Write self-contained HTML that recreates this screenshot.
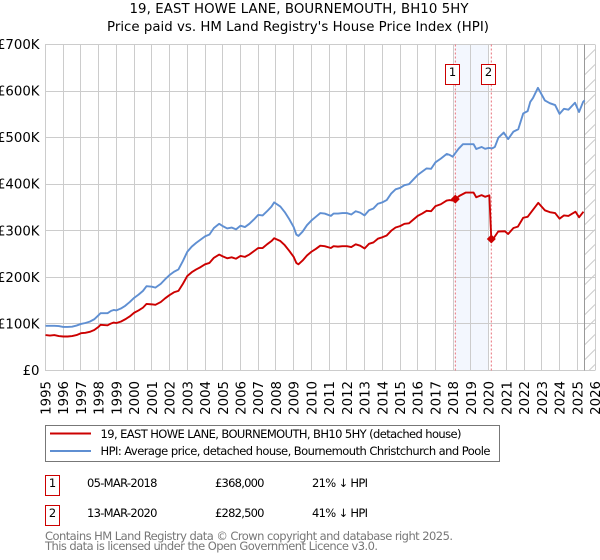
<!DOCTYPE html>
<html lang="en">
<head>
<meta charset="utf-8">
<title>19, EAST HOWE LANE, BOURNEMOUTH, BH10 5HY</title>
<style>
html,body{margin:0;padding:0;background:#fff}
svg{display:block}
text{font-family:"DejaVu Sans",sans-serif;fill:#000}
</style>
</head>
<body>
<svg id="chart" xmlns="http://www.w3.org/2000/svg" width="600" height="560" viewBox="0 0 600 560">
  <defs>
    <pattern id="hatch" x="584.5" y="0" width="10.5" height="15" patternUnits="userSpaceOnUse">
      <line x1="0" y1="15" x2="10.5" y2="4.5" stroke="#ccc" stroke-width="1"/>
    </pattern>
  </defs>
  <text x="299" y="13" text-anchor="middle" font-size="13.3" textLength="339" lengthAdjust="spacing">19, EAST HOWE LANE, BOURNEMOUTH, BH10 5HY</text>
  <text x="298" y="31" text-anchor="middle" font-size="13.3" textLength="382" lengthAdjust="spacing">Price paid vs. HM Land Registry's House Price Index (HPI)</text>

  <rect id="shade" fill="#f3f7fe"/>
  <g id="grid"></g>
  <rect id="future" fill="url(#hatch)"/>
  <line id="lastData" stroke="#999" stroke-width="1"/>
  <g id="ylabels"></g>
  <g id="xlabels"></g>
  <g id="saleLines"></g>
  <path id="hpiLine" fill="none" stroke="#5f8fd2" stroke-width="1.9" stroke-linejoin="round"/>
  <path id="priceLine" fill="none" stroke="#cc0000" stroke-width="1.9" stroke-linejoin="round"/>
  <g id="saleMarkers"></g>

  <rect x="45.5" y="425.5" width="454" height="36" fill="#fff" stroke="#777" stroke-width="1"/>
  <line x1="50" x2="91" y1="433.5" y2="433.5" stroke="#cc0000" stroke-width="2"/>
  <text x="100.5" y="438" font-size="11.5" textLength="361" lengthAdjust="spacing">19, EAST HOWE LANE, BOURNEMOUTH, BH10 5HY (detached house)</text>
  <line x1="50" x2="91" y1="451" y2="451" stroke="#5f8fd2" stroke-width="2"/>
  <text x="100.5" y="455" font-size="11.5" textLength="390" lengthAdjust="spacing">HPI: Average price, detached house, Bournemouth Christchurch and Poole</text>

  <rect x="45.5" y="475.5" width="14" height="20" fill="#fff" stroke="#cc0000" stroke-width="1"/>
  <text x="52.5" y="487" text-anchor="middle" font-size="11.5">1</text>
  <text x="87" y="487" font-size="11.5" textLength="70.5" lengthAdjust="spacing">05-MAR-2018</text>
  <text x="215" y="487" font-size="11.5" textLength="49.5" lengthAdjust="spacing">£368,000</text>
  <text x="312" y="487" font-size="11.5" textLength="56" lengthAdjust="spacing">21% ↓ HPI</text>

  <rect x="45.5" y="505.5" width="14" height="20" fill="#fff" stroke="#cc0000" stroke-width="1"/>
  <text x="52.5" y="517" text-anchor="middle" font-size="11.5">2</text>
  <text x="87" y="517" font-size="11.5" textLength="70.5" lengthAdjust="spacing">13-MAR-2020</text>
  <text x="215" y="517" font-size="11.5" textLength="49.5" lengthAdjust="spacing">£282,500</text>
  <text x="312" y="517" font-size="11.5" textLength="56" lengthAdjust="spacing">41% ↓ HPI</text>

  <text x="45" y="540" font-size="11.5" style="fill:#777" textLength="408" lengthAdjust="spacing">Contains HM Land Registry data © Crown copyright and database right 2025.</text>
  <text x="45" y="550" font-size="11.5" style="fill:#777" textLength="333" lengthAdjust="spacing">This data is licensed under the Open Government Licence v3.0.</text>
</svg>
<script>
var yearTicks = [1995,1996,1997,1998,1999,2000,2001,2002,2003,2004,2005,2006,2007,2008,2009,2010,2011,2012,2013,2014,2015,2016,2017,2018,2019,2020,2021,2022,2023,2024,2025,2026];
var priceTicks = [0,100,200,300,400,500,600,700];
var priceTickLabels = ["£0","£100K","£200K","£300K","£400K","£500K","£600K","£700K"];

var hpiDates = [1995,1995.25,1995.5,1995.75,1996,1996.25,1996.5,1996.75,1997,1997.25,1997.5,1997.75,1998,1998.1,1998.5,1998.7,1998.85,1999,1999.25,1999.5,1999.75,2000,2000.25,2000.5,2000.7,2001,2001.2,2001.5,2001.75,2002,2002.25,2002.5,2002.75,2003,2003.25,2003.5,2003.75,2004,2004.25,2004.5,2004.8,2005,2005.25,2005.5,2005.75,2006,2006.25,2006.5,2006.75,2007,2007.25,2007.5,2007.75,2007.9,2008.25,2008.5,2008.75,2009,2009.15,2009.27,2009.5,2009.75,2010,2010.25,2010.5,2010.75,2011.1,2011.25,2011.5,2011.75,2012,2012.25,2012.5,2012.75,2013,2013.25,2013.5,2013.75,2014,2014.25,2014.5,2014.75,2015,2015.25,2015.5,2015.75,2016,2016.25,2016.5,2016.75,2017,2017.3,2017.63,2017.8,2017.97,2018.12,2018.3,2018.55,2019.15,2019.3,2019.6,2019.8,2020,2020.2,2020.35,2020.55,2020.85,2021.1,2021.4,2021.67,2021.95,2022.2,2022.35,2022.5,2022.78,2023.17,2023.45,2023.75,2024,2024.25,2024.5,2024.87,2025.1,2025.33,2025.42];
var hpiValues = [96,96,96,95.5,93.5,93.5,94,96.5,100,102,105,110,119,123,123,128,130,129,133,139,147,156,163,171,181,180,178,186,196,205,212,217,235,255,266,274,281,288,292,306,315,310,305,307,303,311,308,315,324,334,333,342,352,361,352,340,325,308,292,289,298,312,322,330,338,337,332,337,337,338,338,335,342,339,333,344,348,358,361,366,380,389,392,398,400,410,420,427,434,433,447,455,465,463,459,467,476,486,486,475.6,480,476,478,477,480,500,511,497,513,518,552,557,577,585,607,580,574,570,551,562,560,575,555,577,580];

var priceDates = [1995,1995.25,1995.5,1995.75,1996,1996.25,1996.5,1996.75,1997,1997.25,1997.5,1997.75,1998,1998.1,1998.5,1998.7,1998.85,1999,1999.25,1999.5,1999.75,2000,2000.25,2000.5,2000.7,2001,2001.2,2001.5,2001.75,2002,2002.25,2002.5,2002.75,2003,2003.25,2003.5,2003.75,2004,2004.25,2004.5,2004.8,2005,2005.25,2005.5,2005.75,2006,2006.25,2006.5,2006.75,2007,2007.25,2007.5,2007.75,2007.9,2008.25,2008.5,2008.75,2009,2009.15,2009.27,2009.5,2009.75,2010,2010.25,2010.5,2010.75,2011.1,2011.25,2011.5,2011.75,2012,2012.25,2012.5,2012.75,2013,2013.25,2013.5,2013.75,2014,2014.25,2014.5,2014.75,2015,2015.25,2015.5,2015.75,2016,2016.25,2016.5,2016.75,2017,2017.3,2017.63,2017.8,2017.97,2018.12,2018.35,2018.7,2019.15,2019.3,2019.6,2019.8,2020.04,2020.15,2020.3,2020.54,2020.92,2021.1,2021.4,2021.65,2021.95,2022.2,2022.8,2023.17,2023.45,2023.75,2024,2024.25,2024.5,2024.9,2025.1,2025.35];
var priceValues = [76,75,76,74,73,73,74,76,80,81,83,87,94,98,97,101,103,102,105,110,116,124,129,135,143,142,141,147,155,162,168,171,186,203,211,217,222,228,231,242,249,245,241,243,240,246,244,249,256,263,263,271,278,284,278,269,257,244,231,228,236,247,255,261,268,267,263,267,266,267,267,265,271,268,262,272,275,283,286,290,300,307,310,315,316,324,332,337,343,342,353,357,365,366,365,368,375,382,382,372,376.5,373,376,282.5,285,298.5,299,293,306,309,328,330,360,344,340,338,326,333,332,341,329,341];

var saleDates = [2018.12,2020.15];
var salePrices = [368,282.5];
var saleBadges = ["1","2"];

var NS = "http://www.w3.org/2000/svg";
function sx(d){ return 45.5 + (d - 1995) * 17.726; }
function sy(v){ return 370.5 - v * 0.4657; }
function snap(p){ return Math.floor(p) + 0.5; }
function make(tag, parent){ var n = document.createElementNS(NS, tag); parent.appendChild(n); return n; }
function linePath(ds, vs){
  var s = "";
  for (var i = 0; i < ds.length; i++) s += (i ? "L" : "M") + sx(ds[i]).toFixed(2) + " " + sy(vs[i]).toFixed(2);
  return s;
}

var grid = document.getElementById("grid");
var ylabels = document.getElementById("ylabels");
var xlabels = document.getElementById("xlabels");

priceTicks.forEach(function(t, i){
  var l = make("line", grid);
  
  
  l.setAttribute("x1", 45); l.setAttribute("x2", 595);
  l.setAttribute("y1", snap(sy(t))); l.setAttribute("y2", snap(sy(t)));
  l.setAttribute("stroke", "#ccc");
  var tx = make("text", ylabels);
  
  
  tx.setAttribute("x", 39.5); tx.setAttribute("y", sy(t) + 4.5);
  tx.setAttribute("text-anchor", "end");
  tx.setAttribute("font-size", "13.3");
  tx.textContent = priceTickLabels[i];
});

yearTicks.forEach(function(yr){
  var l = make("line", grid);
  
  
  var x = snap(sx(yr));
  l.setAttribute("x1", x); l.setAttribute("x2", x);
  l.setAttribute("y1", 44.5); l.setAttribute("y2", 370.5);
  l.setAttribute("stroke", "#ccc");
  var tx = make("text", xlabels);
  
  
  tx.setAttribute("transform", "translate(" + (sx(yr) + 5) + ",381) rotate(-90)");
  tx.setAttribute("text-anchor", "end");
  tx.setAttribute("font-size", "13.3");
  tx.textContent = yr;
});

var shade = document.getElementById("shade");
shade.setAttribute("x", sx(saleDates[0]));
shade.setAttribute("y", 44.5);
shade.setAttribute("width", sx(saleDates[1]) - sx(saleDates[0]) - 2.5);
shade.setAttribute("height", 326);

var lastX = 584.5;
var future = document.getElementById("future");
future.setAttribute("x", lastX); future.setAttribute("y", 44.5);
future.setAttribute("width", 595 - lastX); future.setAttribute("height", 326);
var lastData = document.getElementById("lastData");
lastData.setAttribute("x1", lastX); lastData.setAttribute("x2", lastX);
lastData.setAttribute("y1", 44.5); lastData.setAttribute("y2", 370.5);

document.getElementById("hpiLine").setAttribute("d", linePath(hpiDates, hpiValues));
document.getElementById("priceLine").setAttribute("d", linePath(priceDates, priceValues));

var saleLines = document.getElementById("saleLines");
var saleMarkers = document.getElementById("saleMarkers");
saleDates.forEach(function(d, i){
  var x = sx(d), y = sy(salePrices[i]);
  var l = make("line", saleLines);
  
  
  l.setAttribute("x1", x); l.setAttribute("x2", x);
  l.setAttribute("y1", 44.5); l.setAttribute("y2", 370.5);
  l.setAttribute("stroke", "#e8707a");
  l.setAttribute("stroke-dasharray", "2 2");
  var m = make("path", saleMarkers);
  
  
  m.setAttribute("d", "M" + x + " " + (y - 4.5) + "L" + (x + 4.5) + " " + y + "L" + x + " " + (y + 4.5) + "L" + (x - 4.5) + " " + y + "Z");
  m.setAttribute("fill", "#cc0000");
  var b = make("rect", saleMarkers);
  
  
  b.setAttribute("x", snap(x - 9.5)); b.setAttribute("y", 64.5);
  b.setAttribute("width", 14); b.setAttribute("height", 20);
  b.setAttribute("fill", "#fff"); b.setAttribute("stroke", "#cc0000");
  var t = make("text", saleMarkers);
  
  
  t.setAttribute("x", snap(x - 9.5) + 7); t.setAttribute("y", 76);
  t.setAttribute("text-anchor", "middle");
  t.setAttribute("font-size", "11.5");
  t.textContent = saleBadges[i];
});
</script>
</body>
</html>
